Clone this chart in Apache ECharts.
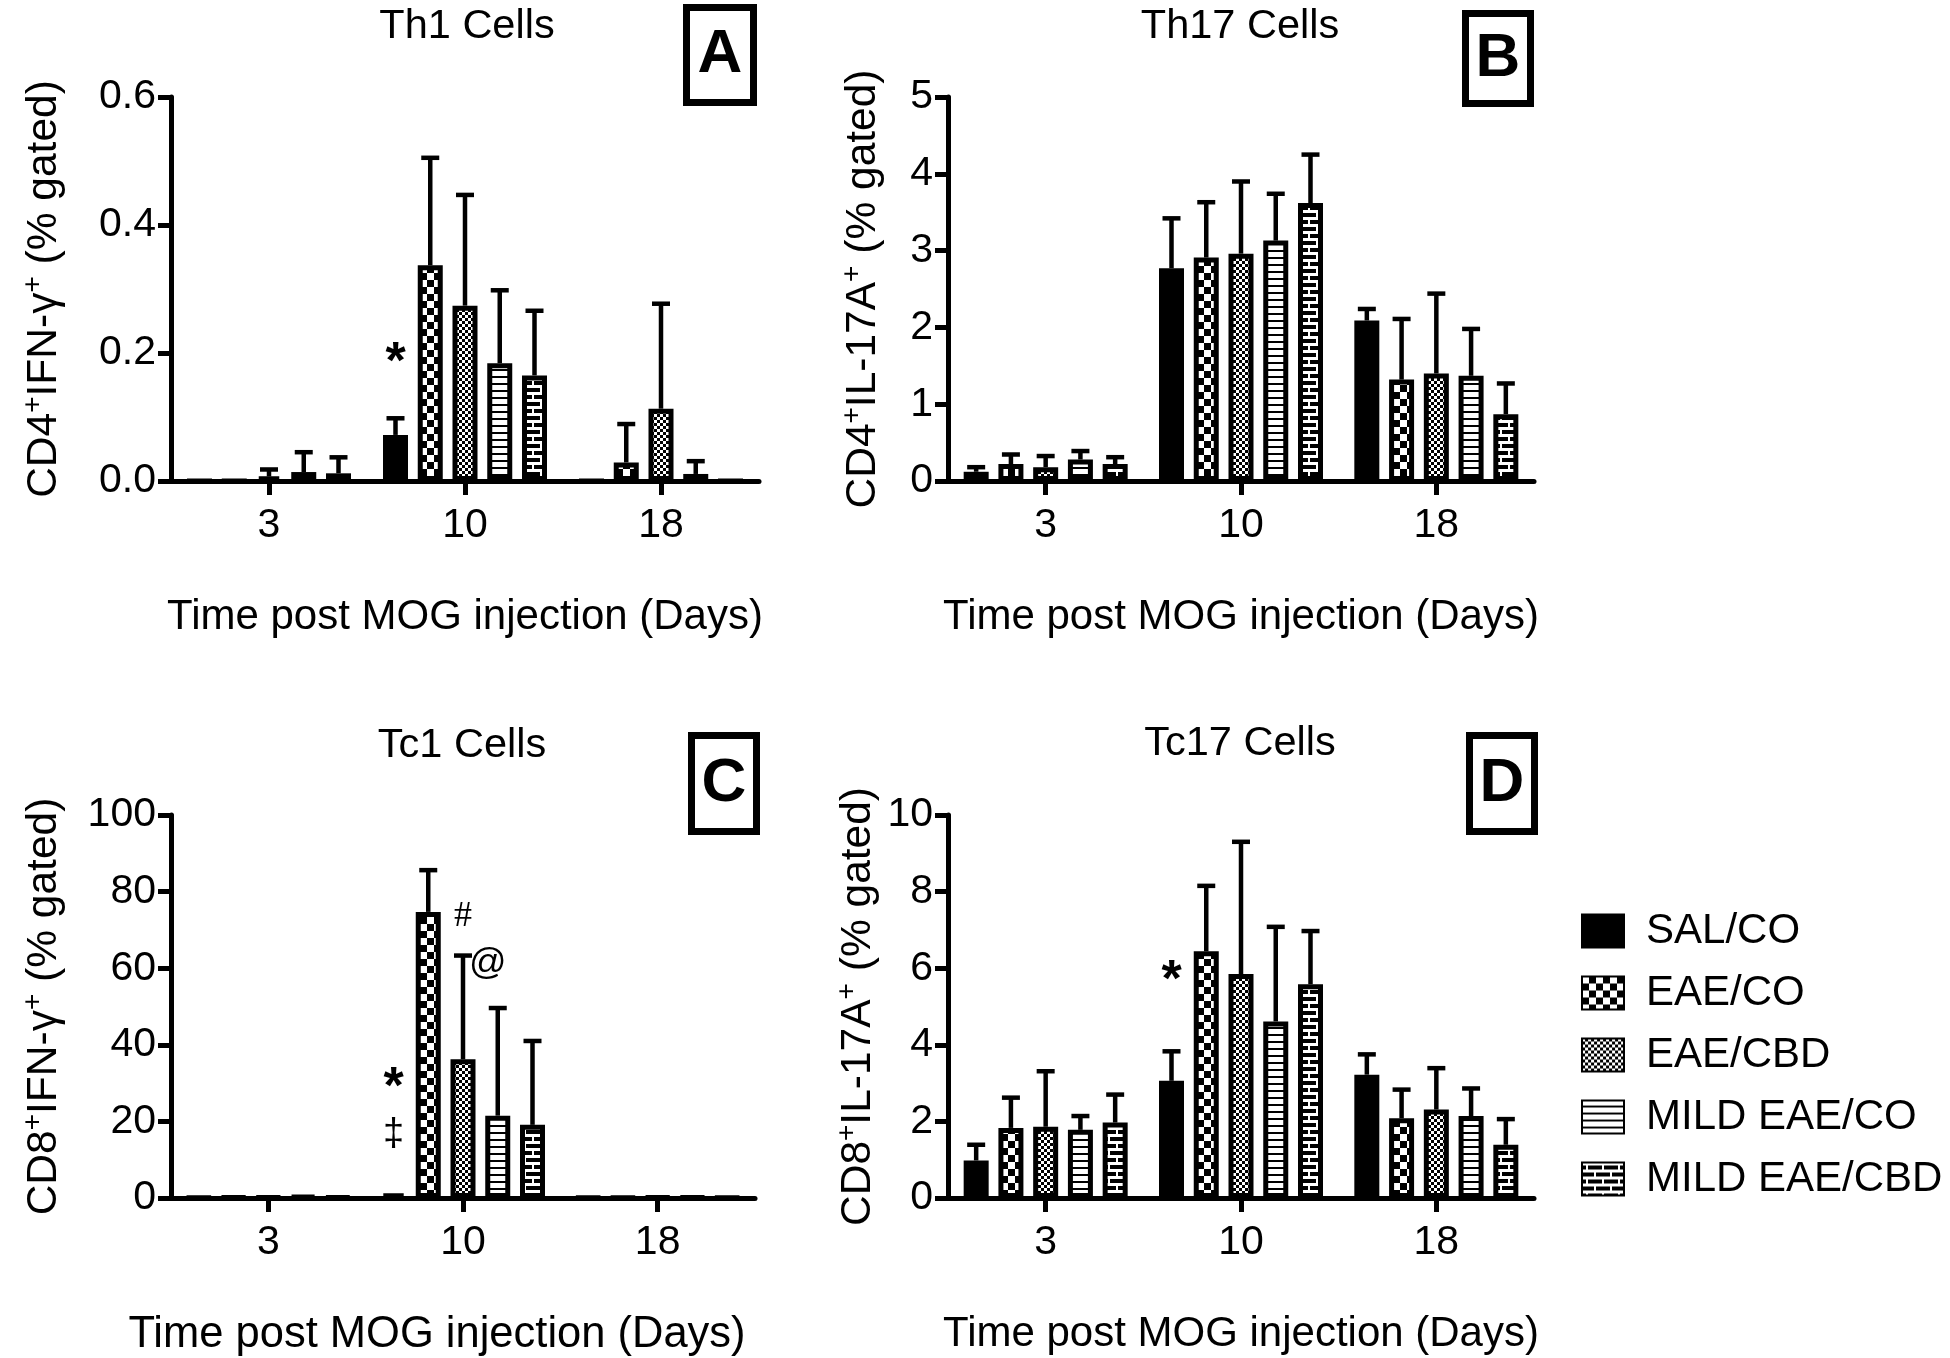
<!DOCTYPE html>
<html>
<head>
<meta charset="utf-8">
<script src="https://cdn.jsdelivr.net/npm/echarts@6/dist/echarts.min.js"></script>
<style>html,body{margin:0;padding:0;background:#fff}#c{width:1950px;height:1358px}</style>
</head>
<body>
<div id="c"></div>
<script>
// ---------- DATA ----------
const days = ['3', '10', '18'];
const groups = ['SAL/CO', 'EAE/CO', 'EAE/CBD', 'MILD EAE/CO', 'MILD EAE/CBD'];
const ticksA = [0, 0.2, 0.4, 0.6];
const ticksB = [0, 1, 2, 3, 4, 5];
const ticksC = [0, 20, 40, 60, 80, 100];
const ticksD = [0, 2, 4, 6, 8, 10];

// Th1 cells (A): mean per group, values for days 3 / 10 / 18
const th1Mean  = [[0, 0.072, 0], [0, 0.337, 0.029], [0.007, 0.274, 0.113], [0.014, 0.184, 0.011], [0.012, 0.165, 0]];
const th1Upper = [[null, 0.098, null], [null, 0.505, 0.089], [0.018, 0.447, 0.277], [0.045, 0.298, 0.031], [0.037, 0.266, null]];
// Th17 cells (B)
const th17Mean  = [[0.12, 2.77, 2.09], [0.22, 2.91, 1.32], [0.18, 2.96, 1.40], [0.28, 3.13, 1.37], [0.22, 3.62, 0.87]];
const th17Upper = [[0.18, 3.42, 2.24], [0.345, 3.63, 2.11], [0.325, 3.90, 2.44], [0.39, 3.74, 1.98], [0.31, 4.25, 1.27]];
// Tc1 cells (C)
const tc1Mean  = [[0.1, 1.2, 0.1], [0.2, 74.7, 0.1], [0.2, 36.2, 0.2], [0.5, 21.5, 0.2], [0.3, 19.1, 0.1]];
const tc1Upper = [[null, null, null], [null, 85.6, null], [null, 63.3, null], [null, 49.6, null], [null, 41.0, null]];
// Tc17 cells (D)
const tc17Mean  = [[0.98, 3.06, 3.22], [1.83, 6.44, 2.08], [1.86, 5.85, 2.31], [1.78, 4.61, 2.14], [1.97, 5.58, 1.39]];
const tc17Upper = [[1.39, 3.83, 3.75], [2.62, 8.15, 2.83], [3.31, 9.30, 3.39], [2.14, 7.08, 2.86], [2.70, 6.97, 2.06]];

// significance marks: [day index, group index, y value, text]
const th1Notes  = [[1, 0, 0.183, '*']];
const th17Notes = [];
const tc1Notes  = [[1, 0, 28.5, '*'], [1, 0, 16.5, '‡'], [1, 2, 73.4, '#'], [1, 3, 61.2, '@']];
const tc17Notes = [[1, 0, 5.66, '*']];

// ---------- STYLE ----------
const FONT = "'Liberation Sans', Arial, Helvetica, sans-serif";
const BAR_W = 25, BAR_GAP = 0.39, PITCH = BAR_W * (1 + BAR_GAP);

function makeCanvas(w, h, draw) {
  const c = document.createElement('canvas');
  c.width = w; c.height = h;
  draw(c.getContext('2d'));
  return c;
}
const patterns = [
  '#000',
  { image: makeCanvas(14, 14, g => { g.fillStyle = '#000'; g.fillRect(0, 0, 14, 14); g.fillStyle = '#fff'; g.fillRect(0, 0, 7, 7); g.fillRect(7, 7, 7, 7); }), repeat: 'repeat' },
  { image: makeCanvas(6, 6, g => { g.fillStyle = '#000'; g.fillRect(0, 0, 6, 6); g.fillStyle = '#fff'; g.fillRect(0, 0, 3, 3); g.fillRect(3, 3, 3, 3); }), repeat: 'repeat' },
  { image: makeCanvas(8, 7, g => { g.fillStyle = '#fff'; g.fillRect(0, 0, 8, 7); g.fillStyle = '#000'; g.fillRect(0, 5, 8, 2); }), repeat: 'repeat' },
  { image: makeCanvas(16, 14, g => { g.fillStyle = '#000'; g.fillRect(0, 0, 16, 14); g.fillStyle = '#fff';
      g.fillRect(0, 0, 16, 3); g.fillRect(0, 7, 16, 3); g.fillRect(4, 3, 2, 4); g.fillRect(12, 10, 2, 4); }), repeat: 'repeat' }
];

const noteStyle = {
  '*': { fontSize: 52, fontWeight: 'bold', fontFamily: FONT, dx: 0 },
  '‡': { fontSize: 38, fontWeight: 'normal', fontFamily: FONT, dx: 0 },
  '#': { fontSize: 36, fontWeight: 'normal', fontFamily: "'Liberation Serif', serif", dx: 0 },
  '@': { fontSize: 37, fontWeight: 'normal', fontFamily: FONT, dx: -10 }
};

const panels = [
  { mean: th1Mean, upper: th1Upper, notes: th1Notes, ticks: ticksA, dec: 1,
    grid: { left: 171, top: 97, width: 588, height: 384 },
    yName: 'CD4{s|+}IFN-γ{s|+} (% gated)', yGap: 102, xPad: [0, 0, 0, 0], xFont: 42,
    title: 'Th1 Cells', tx: 467, ty: 27, box: [683, 4, 74, 102, 'A'] },
  { mean: th17Mean, upper: th17Upper, notes: th17Notes, ticks: ticksB, dec: 0,
    grid: { left: 948, top: 97, width: 586, height: 384 },
    yName: 'CD4{s|+}IL-17A{s|+} (% gated)', yGap: 60, xPad: [0, 0, 0, 0], xFont: 42,
    title: 'Th17 Cells', tx: 1240, ty: 27, box: [1462, 10, 72, 97, 'B'] },
  { mean: tc1Mean, upper: tc1Upper, notes: tc1Notes, ticks: ticksC, dec: 0,
    grid: { left: 171, top: 815, width: 584, height: 383 },
    yName: 'CD8{s|+}IFN-γ{s|+} (% gated)', yGap: 102, xPad: [0, 52, 0, 0], xFont: 43.5,
    title: 'Tc1 Cells', tx: 462, ty: 746, box: [688, 732, 72, 103, 'C'] },
  { mean: tc17Mean, upper: tc17Upper, notes: tc17Notes, ticks: ticksD, dec: 0,
    grid: { left: 948, top: 815, width: 586, height: 383 },
    yName: 'CD8{s|+}IL-17A{s|+} (% gated)', yGap: 60, xPad: [0, 0, 0, 0], xFont: 42,
    title: 'Tc17 Cells', tx: 1240, ty: 744, box: [1466, 732, 72, 103, 'D'] }
];

const grids = [], xAxes = [], yAxes = [], series = [], graphics = [];
panels.forEach((p, pi) => {
  grids.push(Object.assign({ containLabel: false }, p.grid));
  xAxes.push({
    type: 'category', gridIndex: pi, data: days,
    name: 'Time post MOG injection (Days)', nameLocation: 'middle', nameGap: 115,
    nameTextStyle: { fontSize: p.xFont, color: '#000', fontFamily: FONT, padding: p.xPad },
    axisLine: { show: true, lineStyle: { color: '#000', width: 5 } },
    axisTick: { show: true, alignWithLabel: true, length: 14, lineStyle: { color: '#000', width: 5 } },
    axisLabel: { fontSize: 41, color: '#000', margin: 24, fontFamily: FONT },
    splitLine: { show: false }
  });
  const t = p.ticks;
  yAxes.push({
    type: 'value', gridIndex: pi, min: t[0], max: t[t.length - 1], interval: t[1] - t[0],
    name: p.yName, nameLocation: 'middle', nameGap: p.yGap,
    nameTextStyle: { fontSize: 42.5, lineHeight: 50, color: '#000', fontFamily: FONT,
      rich: { s: { fontSize: 28, lineHeight: 28, verticalAlign: 'top', color: '#000', fontFamily: FONT } } },
    axisLine: { show: true, lineStyle: { color: '#000', width: 5 } },
    axisTick: { show: true, length: 13, lineStyle: { color: '#000', width: 5 } },
    axisLabel: { fontSize: 41, color: '#000', margin: 15, fontFamily: FONT,
      formatter: v => v.toFixed(p.dec) },
    splitLine: { show: false }
  });
  groups.forEach((g, gi) => {
    series.push({
      type: 'bar', name: g, xAxisIndex: pi, yAxisIndex: pi,
      data: p.mean[gi], barWidth: BAR_W, barGap: (BAR_GAP * 100) + '%',
      itemStyle: { color: patterns[gi], borderColor: '#000', borderWidth: 5 },
      z: 2
    });
  });
  const errData = [];
  groups.forEach((g, gi) => {
    p.upper[gi].forEach((u, di) => { if (u != null) errData.push([di, p.mean[gi][di], u, gi]); });
  });
  series.push({
    type: 'custom', xAxisIndex: pi, yAxisIndex: pi, z: 3, silent: true,
    encode: { x: 0, y: [1, 2] }, data: errData,
    renderItem: (params, api) => {
      const ci = api.value(0), m = api.value(1), u = api.value(2), si = api.value(3);
      const a = api.coord([ci, m]), b = api.coord([ci, u]);
      const x = a[0] + (si - 2) * PITCH;
      return { type: 'group', children: [
        { type: 'line', shape: { x1: x, y1: a[1], x2: x, y2: b[1] }, style: { stroke: '#000', lineWidth: 4.5 } },
        { type: 'line', shape: { x1: x - 9, y1: b[1], x2: x + 9, y2: b[1] }, style: { stroke: '#000', lineWidth: 4.5 } }
      ] };
    }
  });
  if (p.notes.length) {
    series.push({
      type: 'custom', xAxisIndex: pi, yAxisIndex: pi, z: 4, silent: true,
      encode: { x: 0, y: 1 }, data: p.notes.map(n => [n[0], n[2]]),
      renderItem: (params, api) => {
        const n = p.notes[params.dataIndex];
        const c = api.coord([api.value(0), api.value(1)]);
        const st = noteStyle[n[3]];
        return { type: 'text', x: c[0] + (n[1] - 2) * PITCH + st.dx, y: c[1],
          style: { text: n[3], fill: '#000', align: 'center', verticalAlign: 'middle',
            fontSize: st.fontSize, fontWeight: st.fontWeight, fontFamily: st.fontFamily } };
      }
    });
  }
  graphics.push({ type: 'text', x: p.tx, y: p.ty,
    style: { text: p.title, fontSize: 41.5, fontFamily: FONT, fill: '#000', align: 'center', verticalAlign: 'middle' } });
  const bx = p.box;
  graphics.push({ type: 'rect', shape: { x: bx[0] + 3.5, y: bx[1] + 3.5, width: bx[2] - 7, height: bx[3] - 7 },
    style: { fill: '#fff', stroke: '#000', lineWidth: 7 } });
  graphics.push({ type: 'text', x: bx[0] + bx[2] / 2, y: bx[1] + bx[3] / 2,
    style: { text: bx[4], fontSize: 62, fontWeight: 'bold', fontFamily: FONT, fill: '#000', align: 'center', verticalAlign: 'middle' } });
});

const chart = echarts.init(document.getElementById('c'), null, { renderer: 'canvas' });
chart.setOption({
  animation: false,
  backgroundColor: '#fff',
  textStyle: { fontFamily: FONT, color: '#000' },
  grid: grids, xAxis: xAxes, yAxis: yAxes, series: series,
  legend: {
    data: groups, orient: 'vertical', left: 1581, top: 910, padding: 0,
    icon: 'rect', itemWidth: 42, itemHeight: 33, itemGap: 20,
    textStyle: { fontSize: 42, color: '#000', fontFamily: FONT, padding: [0, 0, 0, 17] },
    selectedMode: false
  },
  graphic: graphics
});
</script>
</body>
</html>
